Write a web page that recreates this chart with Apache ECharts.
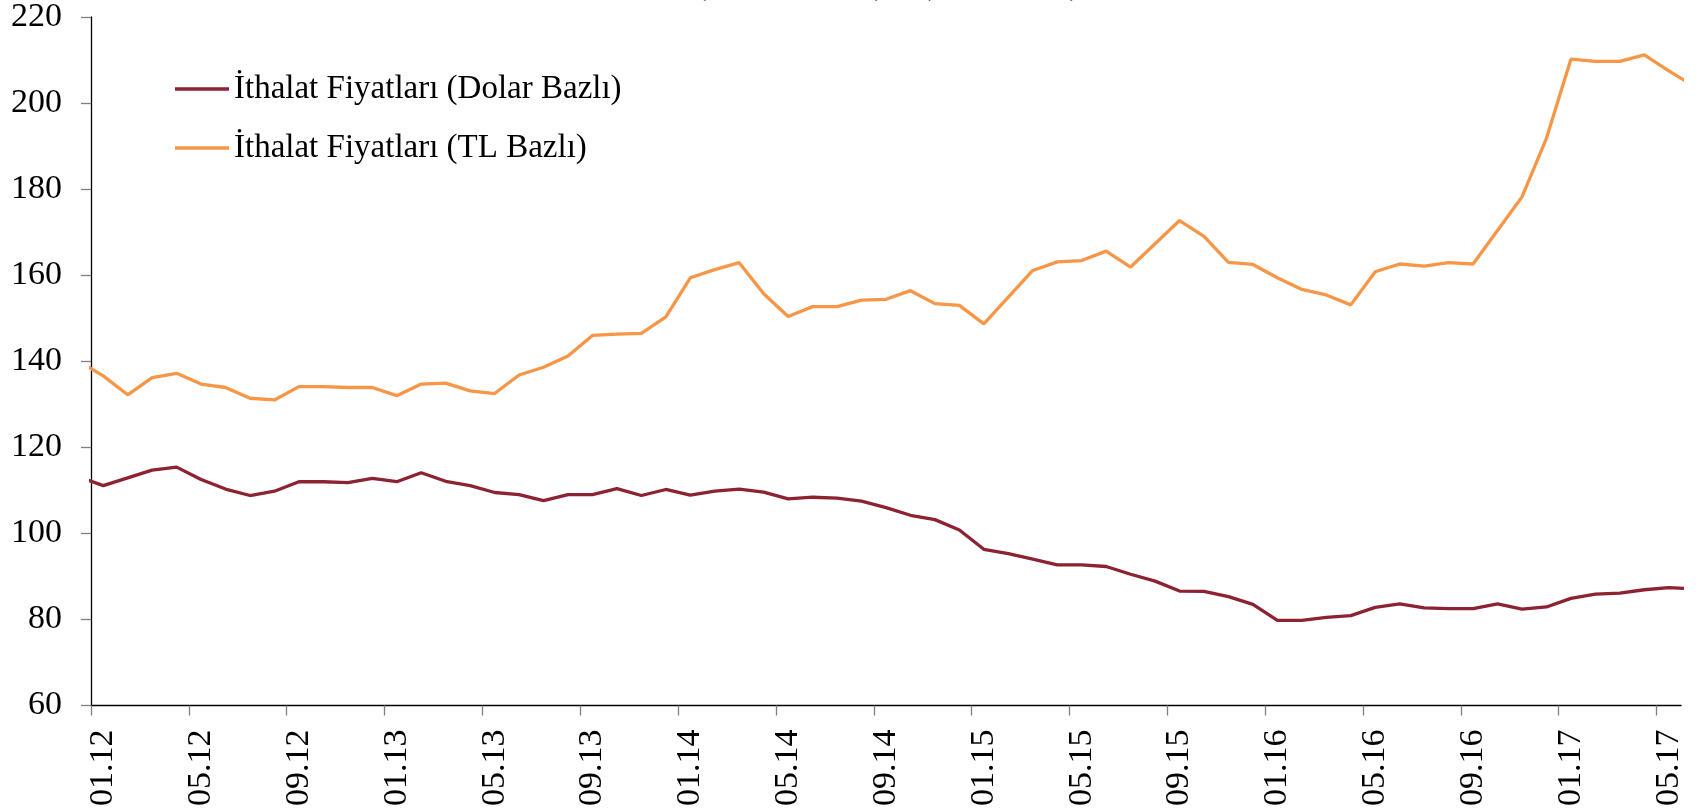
<!DOCTYPE html>
<html>
<head>
<meta charset="utf-8">
<script src="https://cdn.jsdelivr.net/npm/echarts@6/dist/echarts.min.js"></script>
<style>
  html, body { margin: 0; padding: 0; background: #fff; }
  #chart { width: 1702px; height: 809px; }
</style>
</head>
<body>
<div id="chart"></div>
<script>
// monthly labels, first and last month fall just outside the plot and get clipped
var months = ['12.11',
  '01.12', '02.12', '03.12', '04.12', '05.12', '06.12', '07.12', '08.12', '09.12', '10.12', '11.12', '12.12',
  '01.13', '02.13', '03.13', '04.13', '05.13', '06.13', '07.13', '08.13', '09.13', '10.13', '11.13', '12.13',
  '01.14', '02.14', '03.14', '04.14', '05.14', '06.14', '07.14', '08.14', '09.14', '10.14', '11.14', '12.14',
  '01.15', '02.15', '03.15', '04.15', '05.15', '06.15', '07.15', '08.15', '09.15', '10.15', '11.15', '12.15',
  '01.16', '02.16', '03.16', '04.16', '05.16', '06.16', '07.16', '08.16', '09.16', '10.16', '11.16', '12.16',
  '01.17', '02.17', '03.17', '04.17', '05.17', '06.17'];

var dolarBazli = [113.1,
  111.1, 112.9, 114.7, 115.4, 112.5, 110.3, 108.8, 109.8, 112.0, 112.0, 111.8, 112.8,
  112.0, 114.1, 112.1, 111.1, 109.5, 109.0, 107.6, 109.0, 109.0, 110.4, 108.8, 110.2,
  108.9, 109.8, 110.3, 109.6, 108.0, 108.4, 108.2, 107.5, 106.0, 104.2, 103.2, 100.8,
  96.3, 95.3, 94.0, 92.7, 92.7, 92.3, 90.5, 88.9, 86.6, 86.5, 85.3, 83.5,
  79.8, 79.8, 80.5, 80.9, 82.8, 83.6, 82.7, 82.5, 82.5, 83.6, 82.4, 82.9,
  84.9, 85.9, 86.1, 86.9, 87.4, 87.1];

var tlBazli = [140.0,
  136.6, 132.2, 136.2, 137.2, 134.7, 133.9, 131.4, 131.0, 134.1, 134.1, 133.9, 133.9,
  132.0, 134.7, 134.9, 133.1, 132.5, 136.8, 138.6, 141.2, 146.0, 146.3, 146.5, 150.3,
  159.4, 161.3, 162.9, 155.7, 150.4, 152.7, 152.7, 154.2, 154.4, 156.4, 153.4, 153.0,
  148.7, 154.9, 161.1, 163.1, 163.4, 165.6, 161.9, 167.3, 172.7, 169.0, 163.0, 162.5,
  159.4, 156.7, 155.4, 153.1, 160.8, 162.6, 162.1, 162.9, 162.6, 170.4, 178.2, 191.8,
  210.2, 209.7, 209.7, 211.2, 207.5, 204.0];

var seriesNames = ['İthalat Fiyatları (Dolar Bazlı)', 'İthalat Fiyatları (TL Bazlı)'];
var yTicks = [60, 80, 100, 120, 140, 160, 180, 200, 220];

var font = 'Liberation Serif';

// month i sits in the middle of its slot: x = i - 0.5
function toPoints(arr) {
  return arr.map(function (v, i) { return [i - 0.5, v]; });
}

var tickPos = [];
var labelPos = [];
for (var i = 1; i < months.length - 1; i += 4) {
  tickPos.push(i - 1);
  labelPos.push(i - 0.5);
}

var chart = echarts.init(document.getElementById('chart'));
chart.setOption({
  animation: false,
  backgroundColor: '#fff',
  // title sits mostly above the canvas, only the bracket tails show
  title: {
    text: 'İthalat Endeksleri (Dolar ve TL)    (2010=100)',
    left: 446,
    top: -32,
    padding: 0,
    textStyle: { color: '#8C2232', fontFamily: font, fontSize: 34, fontWeight: 'normal' }
  },
  grid: { left: 91, right: 21, top: 17, bottom: 102, containLabel: false },
  legend: {
    left: 175,
    top: 71,
    orient: 'vertical',
    icon: 'rect',
    itemWidth: 54,
    itemHeight: 3.5,
    itemGap: 23,
    padding: 0,
    data: seriesNames,
    textStyle: { fontFamily: font, fontSize: 33, lineHeight: 36, color: '#000' }
  },
  xAxis: {
    type: 'value',
    min: 0,
    max: months.length - 2,
    axisLine: { lineStyle: { color: '#000', width: 1.3 } },
    axisTick: { customValues: tickPos, length: 10, lineStyle: { color: '#7f7f7f', width: 1.3 } },
    axisLabel: {
      customValues: labelPos,
      rotate: 90,
      margin: 24,
      fontFamily: font,
      fontSize: 34,
      color: '#000',
      formatter: function (v) { return months[Math.round(v + 0.5)]; }
    },
    splitLine: { show: false }
  },
  yAxis: {
    type: 'value',
    min: yTicks[0],
    max: yTicks[yTicks.length - 1],
    interval: 20,
    axisLine: { show: true, lineStyle: { color: '#000', width: 1.3 } },
    axisTick: { show: true, length: 10, lineStyle: { color: '#7f7f7f', width: 1.3 } },
    axisLabel: { fontFamily: font, fontSize: 34, color: '#000', margin: 29 },
    splitLine: { show: false }
  },
  series: [
    {
      name: seriesNames[0],
      type: 'line',
      data: toPoints(dolarBazli),
      showSymbol: false,
      color: '#8C2232',
      lineStyle: { width: 3.3, color: '#8C2232' }
    },
    {
      name: seriesNames[1],
      type: 'line',
      data: toPoints(tlBazli),
      showSymbol: false,
      color: '#F79646',
      lineStyle: { width: 3.3, color: '#F79646' }
    }
  ]
});
</script>
</body>
</html>
